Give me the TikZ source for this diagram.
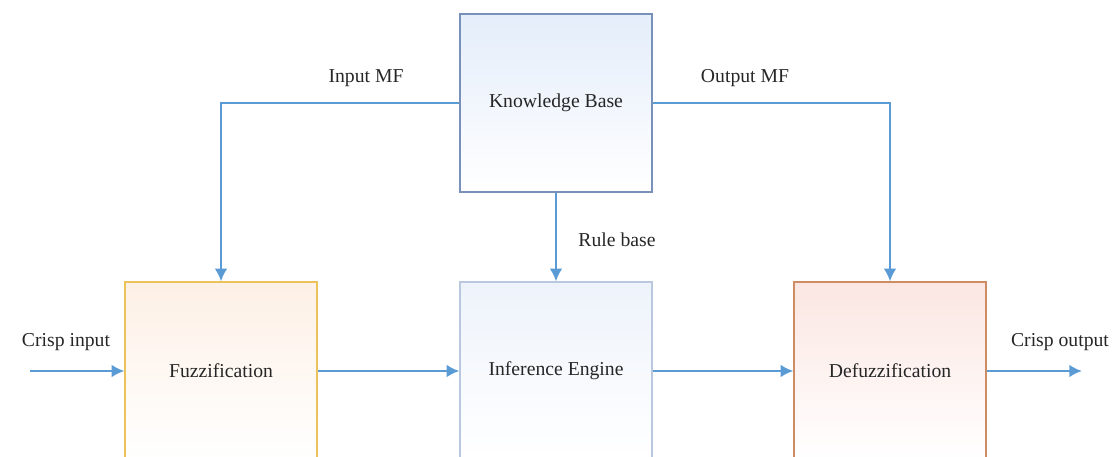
\documentclass[tikz,border=0pt]{standalone}
\usepackage{fontspec}
\setmainfont{Liberation Serif}
\usetikzlibrary{arrows.meta}
\definecolor{arrowBlue}{RGB}{91,155,213}
\definecolor{kbBorder}{RGB}{120,145,185}
\definecolor{kbFill}{RGB}{228,237,250}
\definecolor{fuzzBorder}{RGB}{235,195,90}
\definecolor{fuzzFill}{RGB}{253,240,230}
\definecolor{inferBorder}{RGB}{185,200,222}
\definecolor{inferFill}{RGB}{238,243,251}
\definecolor{defuzzBorder}{RGB}{205,140,100}
\definecolor{defuzzFill}{RGB}{251,230,226}

\begin{document}
\begin{tikzpicture}[%
  x=0.025cm,y=-0.025cm,%
  boxStyle/.style={draw,line width=0.9pt,minimum width=4.8cm,minimum height=4.45cm,
    font=\fontsize{14}{16}\selectfont,text=black!85},%
  arrowStyle/.style={-{Latex[length=9pt,width=9pt]},arrowBlue,line width=1.5pt},%
  labelStyle/.style={font=\fontsize{14}{16}\selectfont,text=black!85}
]
%
% The frame of the picture.
\clip (0,0) rectangle (1117,457);
%
\coordinate (inStart) at (30,371);
\coordinate (outEnd) at (1082,371);
%
% The four blocks.
\node[boxStyle,draw=kbBorder,top color=kbFill,bottom color=white] (kb) at (556,103) {Knowledge Base};
\node[boxStyle,draw=fuzzBorder,top color=fuzzFill,bottom color=white] (fuzz) at (221,371) {Fuzzification};
\node[boxStyle,draw=inferBorder,top color=inferFill,bottom color=white] (infer) at (556,371) {Inference Engine};
\node[boxStyle,draw=defuzzBorder,top color=defuzzFill,bottom color=white] (defuzz) at (890,371) {Defuzzification};
%
% Membership functions and rules.
\draw[arrowStyle] (kb.west) -| (fuzz.north);
\draw[arrowStyle] (kb.east) -| (defuzz.north);
\draw[arrowStyle] (kb.south) -- (infer.north);
\node[labelStyle] (inLabel) at (366,78) {Input MF};
\node[labelStyle] (outLabel) at (745,78) {Output MF};
\node[labelStyle] (ruleLabel) at (617,240) {Rule base};
%
% The main chain.
\draw[arrowStyle] (inStart) -- (fuzz.west);
\draw[arrowStyle] (fuzz.east) -- (infer.west);
\draw[arrowStyle] (infer.east) -- (defuzz.west);
\draw[arrowStyle] (defuzz.east) -- (outEnd);
\node[labelStyle] (crispIn) at (66,342) {Crisp input};
\node[labelStyle] (crispOut) at (1060,342) {Crisp output};
\end{tikzpicture}
\end{document}
